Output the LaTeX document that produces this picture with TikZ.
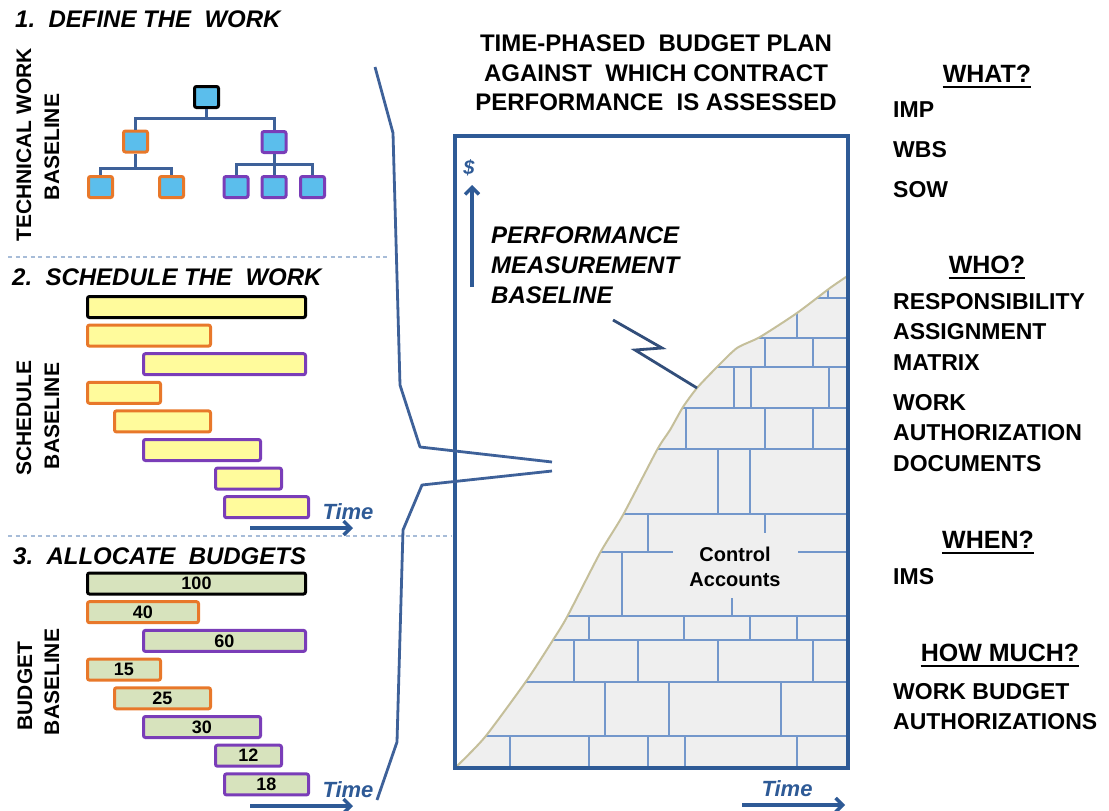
\documentclass[tikz,border=0pt]{standalone}
\usepackage{fontspec}
\setmainfont{Liberation Sans}
\usetikzlibrary{arrows.meta,calc}
\definecolor{lineblue}{HTML}{3E6199}
\definecolor{boxblue}{HTML}{2E5A96}
\definecolor{brickc}{HTML}{7397CB}
\definecolor{brickfill}{HTML}{EFEFEF}
\definecolor{curvec}{HTML}{C5BF9A}
\definecolor{cyanbox}{HTML}{5BBEEC}
\definecolor{orangeb}{HTML}{E8782A}
\definecolor{purpleb}{HTML}{7A3DB8}
\definecolor{yellowf}{HTML}{FFFB9C}
\definecolor{greenf}{HTML}{D7E3BD}
\definecolor{dashc}{HTML}{A7BCD8}
\definecolor{timeblue}{HTML}{2E5A96}
\begin{document}
\begin{tikzpicture}[x=1pt,y=-1pt,
  head/.style={font=\fontsize{24}{29}\selectfont\bfseries\itshape, anchor=west, inner sep=0pt},
  vlab/.style={font=\fontsize{21}{24}\selectfont\bfseries, rotate=90, inner sep=0pt},
  wbs/.style={draw, line width=3pt, fill=cyanbox, minimum width=24pt, minimum height=21pt, inner sep=0pt, rounded corners=2pt},
  tree/.style={draw=lineblue, line width=3pt},
  bar/.style={draw, line width=3pt, rounded corners=2pt, minimum height=21pt, inner sep=0pt},
  sbar/.style={bar, fill=yellowf},
  bbar/.style={bar, fill=greenf, font=\fontsize{18}{20}\selectfont\bfseries},
  timelab/.style={font=\fontsize{22}{26}\selectfont\bfseries\itshape, text=timeblue, inner sep=0pt},
  timearrow/.style={draw=timeblue, line width=3.5pt, -{Straight Barb[length=7pt,width=14pt]}},
  bracketl/.style={draw=lineblue, line width=2.8pt, line join=round},
  sepl/.style={draw=dashc, line width=1.8pt, dash pattern=on 4pt off 3.5pt},
  brickl/.style={draw=brickc, line width=2pt},
  rhead/.style={font=\fontsize{25}{30}\selectfont\bfseries, inner sep=0pt},
  ritem/.style={font=\fontsize{23}{30.5}\selectfont\bfseries, inner sep=0pt, align=left},
  ul/.style={draw=black, line width=2.4pt}
]
\useasboundingbox (0,0) rectangle (1109,811);

% ---------- left headings ----------
\node[head] (h1) at (15,19) {1.\ \ DEFINE THE\ \ WORK};
\node[head] (h2) at (12,277) {2.\ \ SCHEDULE THE\ \ WORK};
\node[head] (h3) at (13,556) {3.\ \ ALLOCATE\ \ BUDGETS};

\node[vlab] (v1a) at (24,145) {TECHNICAL WORK};
\node[vlab] (v1b) at (52,147) {BASELINE};
\node[vlab] (v2a) at (24,418) {SCHEDULE};
\node[vlab] (v2b) at (52,416) {BASELINE};
\node[vlab] (v3a) at (25,686) {BUDGET};
\node[vlab] (v3b) at (52,682) {BASELINE};

% separators
\draw[sepl] (8,257) -- (390,257);
\draw[sepl] (8,536) -- (452,536);

% ---------- WBS tree ----------
\node[wbs, draw=black] (t0) at (206.5,97) {};
\node[wbs, draw=orangeb] (t1) at (135.5,141.5) {};
\node[wbs, draw=purpleb] (t2) at (274,142) {};
\node[wbs, draw=orangeb] (t11) at (100.5,187) {};
\node[wbs, draw=orangeb] (t12) at (171.5,187) {};
\node[wbs, draw=purpleb] (t21) at (236,187) {};
\node[wbs, draw=purpleb] (t22) at (274,187) {};
\node[wbs, draw=purpleb] (t23) at (312.5,187) {};
\coordinate (j0) at (206.5,118);
\coordinate (j1) at (135.5,168);
\coordinate (j2) at (274,164);
\draw[tree] (t0.south) -- (j0);
\draw[tree] (t1.north) |- (j0) -| (t2.north);
\draw[tree] (t1.south) -- (j1);
\draw[tree] (t11.north) |- (j1) -| (t12.north);
\draw[tree] (t2.south) -- (j2);
\draw[tree] (t21.north) |- (j2) -| (t23.north);
\draw[tree] (j2) -- (t22.north);

% ---------- schedule bars ----------
\node[sbar, draw=black,   minimum width=218pt] (s1) at (196.5,307) {};
\node[sbar, draw=orangeb, minimum width=123pt] (s2) at (149,335.6) {};
\node[sbar, draw=purpleb, minimum width=162pt] (s3) at (224.5,364.2) {};
\node[sbar, draw=orangeb, minimum width=73pt]  (s4) at (124,392.8) {};
\node[sbar, draw=orangeb, minimum width=96pt]  (s5) at (162.5,421.4) {};
\node[sbar, draw=purpleb, minimum width=117pt] (s6) at (202,450) {};
\node[sbar, draw=purpleb, minimum width=66pt]  (s7) at (248.5,478.6) {};
\node[sbar, draw=purpleb, minimum width=84pt]  (s8) at (266.5,507.2) {};
\node[timelab] (time1) at (348,512) {Time};
\draw[timearrow] (250,528) -- (353,528);

% ---------- budget bars ----------
\node[bbar, draw=black,   minimum width=218pt] (b1) at (196.5,583.5) {100};
\node[bbar, draw=orangeb, minimum width=111pt] (b2) at (143,612.2) {40};
\node[bbar, draw=purpleb, minimum width=162pt] (b3) at (224.5,640.9) {60};
\node[bbar, draw=orangeb, minimum width=73pt]  (b4) at (124,669.6) {15};
\node[bbar, draw=orangeb, minimum width=96pt]  (b5) at (162.5,698.3) {25};
\node[bbar, draw=purpleb, minimum width=117pt] (b6) at (202,727) {30};
\node[bbar, draw=purpleb, minimum width=66pt]  (b7) at (248.5,755.7) {12};
\node[bbar, draw=purpleb, minimum width=84pt]  (b8) at (266.5,784.4) {18};
\node[timelab] (time2) at (348,790) {Time};
\draw[timearrow] (250,806) -- (353,806);

% ---------- chart ----------
\begin{scope}
\clip (455,768) -- plot[smooth,tension=0.4] coordinates {(456,767) (485,737) (527,680) (553,640) (567,617) (600,553) (623,515) (657,450) (670,430) (683,407) (697,388) (717,367) (737,348) (760,337) (797,313) (830,288) (849,275)} -- (849,768) -- cycle;
\fill[brickfill] (450,130) rectangle (850,770);
\foreach \yy in {298,338,367,408,449,514,616,640,682,736}
  \draw[brickl] (455,\yy) -- (848,\yy);
\draw[brickl] (455,552) -- (673,552);
\draw[brickl] (798,552) -- (848,552);
\foreach \xx/\ya/\yb in {828/270/298, 797/290/338, 765/338/367, 813/338/367,
   734/367/408, 751/367/408, 829/367/408, 686/408/449, 765/408/449, 813/408/449,
   718/449/514, 750/449/514, 648/514/552, 765/514/533, 622/552/616, 732/598/616,
   589/616/640, 684/616/640, 750/616/640, 797/616/640,
   574/640/682, 638/640/682, 718/640/682, 813/640/682,
   605/682/736, 669/682/736, 781/682/736,
   510/736/768, 589/736/768, 648/736/768, 685/736/768, 797/736/768}
  \draw[brickl] (\xx,\ya) -- (\xx,\yb);
\end{scope}
\draw[draw=curvec, line width=2pt] plot[smooth,tension=0.4] coordinates {(456,767) (485,737) (527,680) (553,640) (567,617) (600,553) (623,515) (657,450) (670,430) (683,407) (697,388) (717,367) (737,348) (760,337) (797,313) (830,288) (849,275)};
\draw[draw=boxblue, line width=4pt] (455,136) rectangle (848,768);

\node[font=\fontsize{20}{25}\selectfont\bfseries, align=center, inner sep=0pt] (ca) at (735,567) {Control\\Accounts};

% brackets
\draw[bracketl] (375,67) -- (393,133) -- (400,385) -- (420,447) -- (552,462);
\draw[bracketl] (552,471) -- (422,485) -- (403,530) -- (397,742) -- (377,800);

% title
\node[font=\fontsize{24}{29.5}\selectfont\bfseries, align=center, inner sep=0pt, anchor=north] (title) at (656,35)
  {TIME-PHASED\ \ BUDGET PLAN\\AGAINST\ \ WHICH CONTRACT\\PERFORMANCE\ \ IS ASSESSED};

% y axis
\node[font=\fontsize{20}{22}\selectfont\bfseries\itshape, text=timeblue, inner sep=0pt] (dollar) at (469,168) {\$};
\draw[timearrow] (472,287) -- (472,185);

% PMB
\node[font=\fontsize{24}{30}\selectfont\bfseries\itshape, align=left, inner sep=0pt, anchor=north west] (pmb) at (491,227)
  {PERFORMANCE\\MEASUREMENT\\BASELINE};
\draw[draw=lineblue!80!black, line width=2.8pt, line join=miter] (613,320) -- (662,348) -- (635,350) -- (697,388);

% x axis
\node[timelab] (time3) at (787,789) {Time};
\draw[timearrow] (742,805) -- (845,805);

% ---------- right column ----------
\node[rhead] (what) at (987,74) {WHAT?};
\draw[ul] ([yshift=-4pt]what.south west) -- ([yshift=-4pt]what.south east);
\node[ritem, anchor=west] (imp) at (893,110) {IMP};
\node[ritem, anchor=west] (wbsl) at (893,150) {WBS};
\node[ritem, anchor=west] (sow) at (893,190) {SOW};

\node[rhead] (who) at (987,265) {WHO?};
\draw[ul] ([yshift=-4pt]who.south west) -- ([yshift=-4pt]who.south east);
\node[ritem, anchor=north west] (ram) at (893,293) {RESPONSIBILITY\\ASSIGNMENT\\MATRIX};
\node[ritem, anchor=north west] (wad) at (893,394) {WORK\\AUTHORIZATION\\DOCUMENTS};

\node[rhead] (when) at (988,540) {WHEN?};
\draw[ul] ([yshift=-4pt]when.south west) -- ([yshift=-4pt]when.south east);
\node[ritem, anchor=west] (ims) at (893,577) {IMS};

\node[rhead] (howmuch) at (1000,653) {HOW MUCH?};
\draw[ul] ([yshift=-4pt]howmuch.south west) -- ([yshift=-4pt]howmuch.south east);
\node[ritem, anchor=north west] (wba) at (893,683) {WORK BUDGET\\AUTHORIZATIONS};
\end{tikzpicture}
\end{document}
